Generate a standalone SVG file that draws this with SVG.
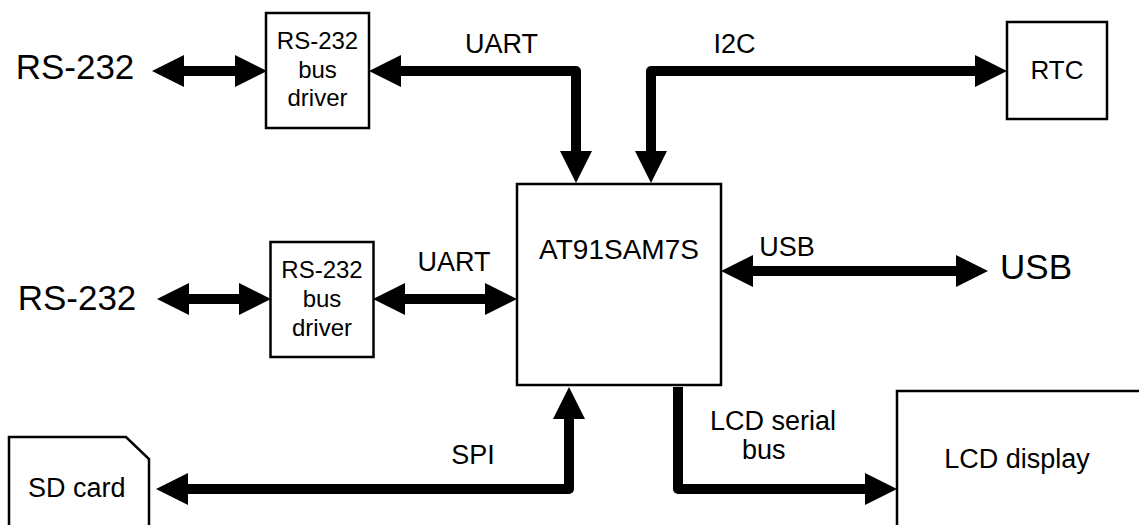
<svg xmlns="http://www.w3.org/2000/svg" width="1139" height="525" viewBox="0 0 1139 525">
<style>
.box{fill:#fff;stroke:#000;stroke-width:2.5}
.bus{fill:none;stroke:#000;stroke-width:10;stroke-linejoin:round;marker-end:url(#ah)}
.bi{marker-start:url(#ah)}
text{font-family:"Liberation Sans",Arial,sans-serif;fill:#000}
.big{font-size:35px}
.lbl{font-size:27px}
.sm{font-size:24px}
.c{text-anchor:middle}
</style>
<defs>
<marker id="ah" markerUnits="userSpaceOnUse" markerWidth="32" markerHeight="32" viewBox="0 0 32 32" refX="0" refY="16" orient="auto-start-reverse">
<path d="M0,0 L32,16 L0,32 Z" fill="#000"/>
</marker>
</defs>
<rect width="1139" height="525" fill="#fff"/>
<g id="connectors">
<path class="bus bi" d="M184,71 H235"/>
<path class="bus bi" d="M401,71 H576 V151"/>
<path class="bus bi" d="M651,151 V71 H975"/>
<path class="bus bi" d="M189,299 H239"/>
<path class="bus bi" d="M405,299 H485"/>
<path class="bus bi" d="M753,271 H956"/>
<path class="bus bi" d="M188,489 H569 V419"/>
<path class="bus" d="M678,387 V489 H865"/>
</g>
<g id="rs232a-ext"><text class="big c" x="75" y="79">RS-232</text></g>
<g id="rs232a-drv">
<rect class="box" x="266" y="13" width="103" height="115"/>
<text class="sm c" x="317.5" y="49">RS-232</text>
<text class="sm c" x="317.5" y="78">bus</text>
<text class="sm c" x="317.5" y="106">driver</text>
</g>
<g id="rs232b-ext"><text class="big c" x="77" y="310">RS-232</text></g>
<g id="rs232b-drv">
<rect class="box" x="270.5" y="242" width="103" height="115"/>
<text class="sm c" x="322" y="278">RS-232</text>
<text class="sm c" x="322" y="307">bus</text>
<text class="sm c" x="322" y="336">driver</text>
</g>
<g id="mcu">
<rect class="box" x="517" y="184" width="204" height="201"/>
<text class="c" x="619" y="259" style="font-size:28px">AT91SAM7S</text>
</g>
<g id="rtc">
<rect class="box" x="1007" y="22" width="100" height="97"/>
<text class="c" x="1057" y="79" style="font-size:26px">RTC</text>
</g>
<g id="usb-ext"><text class="big c" x="1036" y="279">USB</text></g>
<g id="sdcard">
<path class="box" d="M9,530 V437 H126 L149,459 V530"/>
<text class="lbl" x="28" y="497">SD card</text>
</g>
<g id="lcd">
<path class="box" d="M897,530 V391 H1145"/>
<text class="lbl c" x="1017" y="468">LCD display</text>
</g>
<g id="labels">
<text class="lbl c" x="501.5" y="53">UART</text>
<text class="lbl c" x="734.5" y="53">I2C</text>
<text class="lbl c" x="454" y="271">UART</text>
<text class="lbl c" x="787" y="256">USB</text>
<text class="lbl c" x="473" y="464">SPI</text>
<text class="lbl" x="710" y="430">LCD serial</text>
<text class="lbl" x="742" y="459">bus</text>
</g>
</svg>
